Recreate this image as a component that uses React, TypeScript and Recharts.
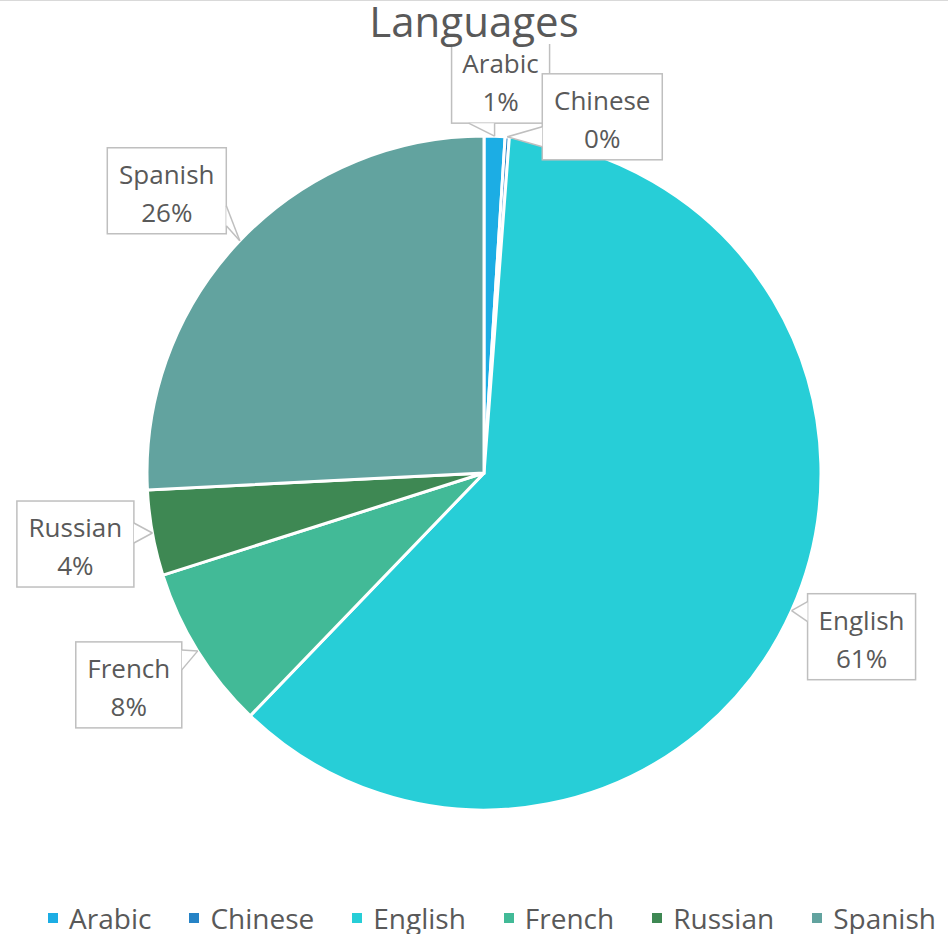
import React from 'react'
import { Legend, Pie, PieChart } from 'recharts'

const languages = ['Arabic', 'Chinese', 'English', 'French', 'Russian', 'Spanish']
const shares = [1.0, 0.2, 61.0, 7.9, 4.1, 25.8]
const colors = ['#1CADE4', '#2683C6', '#27CED7', '#42BA97', '#3E8853', '#62A39F']

// callout box placement, relative to where the slice's mid angle meets the rim
const callouts: Record<string, { dx: number; dy: number; w: number; side: string }> = {
  Arabic: { dx: 6, dy: -56, w: 98, side: 'bottom' },
  Chinese: { dx: 95, dy: -20, w: 120, side: 'left' },
  English: { dx: 70, dy: 26, w: 108, side: 'left' },
  French: { dx: -69, dy: 34, w: 106, side: 'right' },
  Russian: { dx: -77, dy: 11, w: 117, side: 'right' },
  Spanish: { dx: -73, dy: -50, w: 119, side: 'right' },
}

const data = languages.map((name, i) => ({ name, value: shares[i], fill: colors[i] }))

const FONT = '"Open Sans", sans-serif'
const TEXT = '#595959'
const BORDER = '#bfbfbf'

const RAD = Math.PI / 180

const Callout = (props: any) => {
  const { cx, cy, midAngle, outerRadius, name, percent } = props
  const c = callouts[name]
  const tx = cx + outerRadius * Math.cos(-midAngle * RAD)
  const ty = cy + outerRadius * Math.sin(-midAngle * RAD)
  const h = 86
  const bx = tx + c.dx
  const by = ty + c.dy
  const left = bx - c.w / 2
  const right = bx + c.w / 2
  const top = by - h / 2
  const bottom = by + h / 2

  let p0: [number, number]
  let p1: [number, number]
  if (c.side === 'bottom') {
    const m = Math.min(Math.max(tx - 13, left + 15), right - 15)
    p0 = [m - 13, bottom]
    p1 = [m + 13, bottom]
  } else {
    const x = c.side === 'left' ? left : right
    const m = Math.min(Math.max(ty, top + 18), bottom - 18)
    p0 = [x, m - 10]
    p1 = [x, m + 10]
  }

  return (
    <g>
      <rect x={left} y={top} width={c.w} height={h} fill='#fff' stroke={BORDER} strokeWidth={1.5} />
      <polygon points={`${p0[0]},${p0[1]} ${tx},${ty} ${p1[0]},${p1[1]}`} fill='#fff' stroke='none' />
      <line x1={p0[0]} y1={p0[1]} x2={tx} y2={ty} stroke={BORDER} strokeWidth={1.5} />
      <line x1={p1[0]} y1={p1[1]} x2={tx} y2={ty} stroke={BORDER} strokeWidth={1.5} />
      <text x={bx} y={by - 7} textAnchor='middle' fontFamily={FONT} fontSize={26} fill={TEXT}>
        {name}
      </text>
      <text x={bx} y={by + 31} textAnchor='middle' fontFamily={FONT} fontSize={26} fill={TEXT}>
        {Math.round(percent * 100)}%
      </text>
    </g>
  )
}

const LegendRow = ({ payload }: any) => (
  <div style={{ display: 'flex', justifyContent: 'center', gap: 38, paddingLeft: 36, fontFamily: FONT, fontSize: 28, color: TEXT, lineHeight: '40px' }}>
    {(payload || []).map((p: any) => (
      <div key={p.value} style={{ display: 'flex', alignItems: 'center' }}>
        <span style={{ display: 'inline-block', width: 10, height: 10, background: p.color, marginRight: 11 }} />
        <span>{p.value}</span>
      </div>
    ))}
  </div>
)

const App = () => {
  return (
    <div style={{ position: 'absolute', left: 0, top: 0, width: 948, height: 934, background: '#fff', borderTop: '1px solid #d9d9d9', boxSizing: 'border-box', overflow: 'hidden' }}>
      <PieChart width={948} height={934} margin={{ top: 0, right: 0, bottom: 0, left: 0 }}>
        <Pie
          data={data}
          dataKey='value'
          nameKey='name'
          cx={484}
          cy={472}
          outerRadius={337}
          startAngle={90}
          endAngle={-270}
          stroke='#fff'
          strokeWidth={3}
          label={Callout}
          labelLine={false}
          isAnimationActive={false}
        />
        <Legend content={<LegendRow />} wrapperStyle={{ position: 'absolute', top: 897, left: 0, width: 948 }} />
      </PieChart>
      <div style={{ position: 'absolute', top: 0, left: 0, width: 948, textAlign: 'center' }}>
        <span style={{ display: 'inline-block', background: '#fff', fontFamily: FONT, fontSize: 42, color: TEXT, lineHeight: '46px', padding: '0 4px', marginTop: -3 }}>
          Languages
        </span>
      </div>
    </div>
  )
}

export default App
